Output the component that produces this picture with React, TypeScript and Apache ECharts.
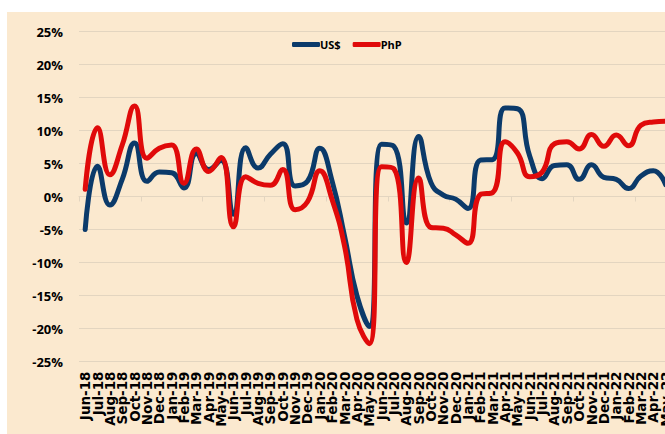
import React, { useEffect, useRef } from "react";
import * as echarts from "echarts";

const months: string[] = [
  "Jun-18", "Jul-18", "Aug-18", "Sep-18", "Oct-18", "Nov-18", "Dec-18",
  "Jan-19", "Feb-19", "Mar-19", "Apr-19", "May-19", "Jun-19", "Jul-19", "Aug-19", "Sep-19", "Oct-19", "Nov-19", "Dec-19",
  "Jan-20", "Feb-20", "Mar-20", "Apr-20", "May-20", "Jun-20", "Jul-20", "Aug-20", "Sep-20", "Oct-20", "Nov-20", "Dec-20",
  "Jan-21", "Feb-21", "Mar-21", "Apr-21", "May-21", "Jun-21", "Jul-21", "Aug-21", "Sep-21", "Oct-21", "Nov-21", "Dec-21",
  "Jan-22", "Feb-22", "Mar-22", "Apr-22", "May-22",
];

const usd: number[] = [
  -5.0, 4.6, -1.3, 2.6, 8.1, 2.3, 3.7,
  3.6, 1.3, 6.5, 4.1, 5.5, -2.7, 7.4, 4.3, 6.4, 8.0, 1.6, 2.3,
  7.3, 2.3, -6.0, -15.0, -19.7, 7.9, 7.6, -4.0, 9.1, 2.1, 0.2, -0.4,
  -1.8, 5.5, 5.6, 13.4, 13.3, 6.1, 2.7, 4.7, 4.8, 2.6, 4.8, 2.9,
  2.6, 1.2, 3.1, 3.9, 1.8,
];

const php: number[] = [
  1.1, 10.4, 3.3, 7.8, 13.7, 5.8, 7.3,
  7.8, 2.0, 7.2, 3.8, 5.9, -4.6, 3.0, 2.0, 1.7, 4.1, -2.0, -0.8,
  3.9, -0.5, -7.5, -18.6, -22.3, 4.5, 4.2, -10.0, 2.8, -4.7, -4.8, -5.8,
  -7.1, 0.3, 0.6, 8.3, 6.6, 3.0, 3.7, 8.0, 8.3, 7.2, 9.4, 7.6,
  9.3, 7.7, 10.8, 11.3, 11.4,
];

const seriesNames: string[] = ["US$", "PhP"];
const yMin = -25;
const yMax = 25;
const yStep = 5;

export default function App() {
  const ref = useRef<HTMLDivElement>(null);
  useEffect(() => {
    if (!ref.current) return;
    const chart = echarts.init(ref.current, undefined, { renderer: "svg" });
    const bg = "#FBE9CF";
    const grid = "#E3D5C0";
    chart.setOption({
      animation: false,
      backgroundColor: bg,
      grid: { left: 72, top: 19.5, width: 592.8, height: 330 },
      legend: {
        data: seriesNames,
        left: 280,
        top: 22,
        icon: "roundRect",
        itemWidth: 28,
        itemHeight: 5,
        itemGap: 12,
        textStyle: {
          fontFamily: "Open Sans",
          fontWeight: "bold",
          fontSize: 11,
          color: "#000",
          padding: [0, 0, 0, -5],
        },
      },
      xAxis: [
        {
          type: "category",
          data: months,
          boundaryGap: true,
          position: "bottom",
          axisLine: { show: false, onZero: false },
          axisTick: { show: false },
          axisLabel: {
            interval: 0,
            rotate: 90,
            margin: 10,
            fontFamily: "DejaVu Sans",
            fontWeight: "bold",
            fontSize: 13.5,
            color: "#000",
          },
          splitLine: { show: false },
        },
        {
          type: "category",
          data: months,
          boundaryGap: true,
          position: "bottom",
          axisLine: { show: true, onZero: true, lineStyle: { color: grid, width: 1 } },
          axisTick: { show: true, length: 5, lineStyle: { color: grid } },
          axisLabel: { show: false },
          splitLine: { show: false },
        },
      ],
      yAxis: {
        type: "value",
        min: yMin,
        max: yMax,
        interval: yStep,
        axisLine: { show: false },
        axisTick: { show: false },
        axisLabel: {
          margin: 16,
          formatter: (v: number) => `${v}%`,
          fontFamily: "Open Sans",
          fontWeight: "bold",
          fontSize: 13,
          color: "#000",
        },
        splitLine: { show: true, lineStyle: { color: grid, width: 1 } },
      },
      series: [
        {
          name: seriesNames[0],
          type: "line",
          data: usd,
          xAxisIndex: 0,
          smooth: 0.5,
          symbol: "none",
          lineStyle: { color: "#0B3A6A", width: 5, cap: "round", join: "round" },
          itemStyle: { color: "#0B3A6A" },
        },
        {
          name: seriesNames[1],
          type: "line",
          data: php,
          xAxisIndex: 0,
          smooth: 0.5,
          symbol: "none",
          lineStyle: { color: "#E00A0A", width: 5, cap: "round", join: "round" },
          itemStyle: { color: "#E00A0A" },
        },
      ],
    });
    return () => chart.dispose();
  }, []);
  return (
    <div style={{ position: "fixed", left: 0, top: 0, width: 665, height: 434, overflow: "hidden", background: "#fff" }}>
      <div ref={ref} style={{ position: "absolute", left: 7, top: 12, width: 700, height: 440 }} />
    </div>
  );
}
